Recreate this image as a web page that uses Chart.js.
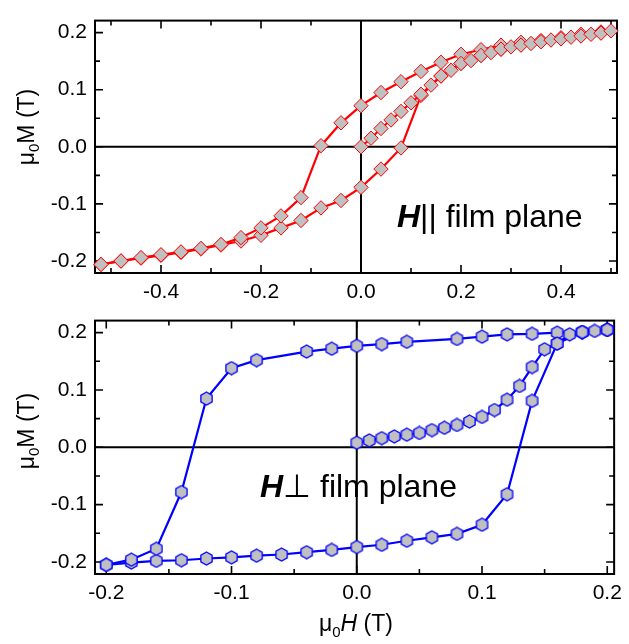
<!DOCTYPE html>
<html>
<head>
<meta charset="utf-8">
<script src="https://cdn.jsdelivr.net/npm/chart.js@4"></script>
<style>
  html, body { margin: 0; padding: 0; background: #fff; }
  #wrap { position: relative; width: 629px; height: 644px; }
  canvas { position: absolute; left: 0; }
  #topChart { top: 0; z-index: 2; }
  #botChart { top: 300px; z-index: 1; }
</style>
</head>
<body>
<div id="wrap">
  <canvas id="topChart" width="629" height="312" style="width:629px;height:312px"></canvas>
  <canvas id="botChart" width="629" height="344" style="width:629px;height:344px"></canvas>
</div>
<script>
// ---- H parallel to film plane (top panel) ----
const parInitH = [0, 0.02, 0.04, 0.06, 0.08, 0.10, 0.12, 0.14, 0.16, 0.18, 0.20, 0.22, 0.24, 0.26,
                  0.28, 0.30, 0.32, 0.34, 0.36, 0.38, 0.40, 0.42, 0.44, 0.46, 0.48, 0.50];
const parInitM = [0, 0.015, 0.032, 0.047, 0.062, 0.077, 0.092, 0.108, 0.124, 0.134, 0.146, 0.151, 0.160, 0.165,
                  0.171, 0.175, 0.178, 0.181, 0.184, 0.187, 0.189, 0.192, 0.194, 0.197, 0.199, 0.203];
const parDownH = [0.48, 0.44, 0.40, 0.36, 0.32, 0.28, 0.24, 0.20, 0.16, 0.12, 0.08, 0.04, 0,
                  -0.04, -0.08, -0.12, -0.16, -0.20, -0.24, -0.28, -0.32, -0.36, -0.40, -0.44, -0.48, -0.52];
const parDownM = [0.201, 0.197, 0.191, 0.186, 0.183, 0.178, 0.170, 0.162, 0.148, 0.132, 0.114, 0.095, 0.072,
                  0.042, 0.002, -0.089, -0.121, -0.142, -0.159, -0.171, -0.178, -0.184, -0.189, -0.194, -0.200, -0.206];
const parUpH = [-0.52, -0.48, -0.44, -0.40, -0.36, -0.32, -0.28, -0.24, -0.20, -0.16, -0.12, -0.08, -0.04,
                0, 0.04, 0.08, 0.12, 0.16, 0.20, 0.24, 0.28, 0.32, 0.36, 0.40, 0.44, 0.48];
const parUpM = [-0.206, -0.200, -0.195, -0.190, -0.185, -0.179, -0.172, -0.165, -0.155, -0.142, -0.129, -0.107, -0.094,
                -0.071, -0.039, -0.002, 0.090, 0.124, 0.146, 0.160, 0.171, 0.179, 0.185, 0.190, 0.195, 0.200];

// ---- H perpendicular to film plane (bottom panel) ----
const perInitH = [0, 0.01, 0.02, 0.03, 0.04, 0.05, 0.06, 0.07, 0.08, 0.09, 0.10,
                  0.11, 0.12, 0.13, 0.14, 0.15, 0.16, 0.17, 0.18, 0.19, 0.20];
const perInitM = [0.008, 0.012, 0.016, 0.019, 0.022, 0.025, 0.030, 0.034, 0.039, 0.045, 0.053,
                  0.065, 0.083, 0.107, 0.140, 0.171, 0.181, 0.197, 0.201, 0.203, 0.205];
const perDownH = [0.20, 0.18, 0.16, 0.14, 0.12, 0.10, 0.08, 0.04, 0.02, 0, -0.02, -0.04,
                  -0.08, -0.10, -0.12, -0.14, -0.16, -0.18, -0.20];
const perDownM = [0.205, 0.201, 0.200, 0.198, 0.197, 0.193, 0.189, 0.184, 0.180, 0.177, 0.172, 0.167,
                  0.152, 0.138, 0.085, -0.078, -0.177, -0.196, -0.205];
const perUpH = [-0.20, -0.18, -0.16, -0.14, -0.12, -0.10, -0.08, -0.06, -0.04, -0.02, 0,
                0.02, 0.04, 0.06, 0.08, 0.10, 0.12, 0.14, 0.16, 0.18, 0.20];
const perUpM = [-0.205, -0.201, -0.198, -0.197, -0.194, -0.192, -0.189, -0.187, -0.183, -0.179, -0.174,
                -0.170, -0.163, -0.157, -0.151, -0.135, -0.082, 0.081, 0.181, 0.201, 0.205];

// ---- ticks ----
const topXTicks = [-0.4, -0.2, 0, 0.2, 0.4];
const topXMinor = [-0.5, -0.3, -0.1, 0.1, 0.3, 0.5];
const botXTicks = [-0.2, -0.1, 0, 0.1, 0.2];
const botXMinor = [-0.15, -0.05, 0.05, 0.15];
const yTicks = [-0.2, -0.1, 0, 0.1, 0.2];
const yMinor = [-0.15, -0.05, 0.05, 0.15];

const FONT = "'Liberation Sans', Arial, sans-serif";
const MARKER_FILL = '#c0c0c0';

function hexImage(size, stroke) {
  const c = document.createElement('canvas');
  c.width = c.height = size;
  const g = c.getContext('2d');
  const r = size / 2 - 1;
  g.beginPath();
  for (let k = 0; k < 6; k++) {
    const a = -Math.PI / 2 + k * Math.PI / 3;
    const px = size / 2 + r * Math.cos(a), py = size / 2 + r * Math.sin(a);
    if (k) g.lineTo(px, py); else g.moveTo(px, py);
  }
  g.closePath();
  g.fillStyle = MARKER_FILL;
  g.fill();
  g.strokeStyle = stroke;
  g.lineWidth = 1.3;
  g.stroke();
  return c;
}

function drawRich(ctx, parts, x, y, align) {
  let w = 0;
  parts.forEach(p => { ctx.font = p.font; w += ctx.measureText(p.t).width; });
  let cx = align === 'center' ? x - w / 2 : x;
  parts.forEach(p => {
    ctx.font = p.font;
    ctx.fillText(p.t, cx, y + (p.dy || 0));
    cx += ctx.measureText(p.t).width;
  });
}

function yTitleParts() {
  return [
    { t: 'μ', font: `23px ${FONT}` },
    { t: '0', font: `15px ${FONT}`, dy: 5 },
    { t: 'M (T)', font: `23px ${FONT}` },
  ];
}

function framePlugin(cfg) {
  return {
    id: 'frame',
    beforeDatasetsDraw(chart) {
      const { ctx, chartArea: a, scales: { x, y } } = chart;
      ctx.save();
      ctx.strokeStyle = '#000';
      ctx.lineWidth = 2;
      const x0 = x.getPixelForValue(0), y0 = y.getPixelForValue(0);
      ctx.beginPath();
      ctx.moveTo(x0, a.top); ctx.lineTo(x0, a.bottom);
      ctx.moveTo(a.left, y0); ctx.lineTo(a.right, y0);
      ctx.stroke();

      // inward ticks on all four sides
      const tick = (vals, len) => {
        vals.forEach(v => {
          const px = x.getPixelForValue(v);
          ctx.moveTo(px, a.bottom); ctx.lineTo(px, a.bottom - len);
          ctx.moveTo(px, a.top); ctx.lineTo(px, a.top + len);
        });
      };
      const ytick = (vals, len) => {
        vals.forEach(v => {
          const py = y.getPixelForValue(v);
          ctx.moveTo(a.left, py); ctx.lineTo(a.left + len, py);
          ctx.moveTo(a.right, py); ctx.lineTo(a.right - len, py);
        });
      };
      ctx.beginPath();
      ctx.lineWidth = 1.6;
      tick(cfg.xTicks, 8); tick(cfg.xMinor, 5);
      ytick(yTicks, 8); ytick(yMinor, 5);
      ctx.stroke();

      ctx.lineWidth = 2;
      ctx.strokeRect(a.left, a.top, a.right - a.left, a.bottom - a.top);

      // texts
      ctx.fillStyle = '#000';
      ctx.textBaseline = 'alphabetic';
      ctx.save();
      ctx.translate(0, cfg.yTitleY);
      ctx.rotate(-Math.PI / 2);
      drawRich(ctx, yTitleParts(), 0, 34, 'center');
      ctx.restore();

      drawRich(ctx, [
        { t: 'H', font: `italic bold 32px ${FONT}` },
        { t: cfg.sym, font: `32px ${FONT}` },
        { t: ' film plane', font: `32px ${FONT}` },
      ], cfg.noteX, cfg.noteY, 'left');

      if (cfg.xTitle) {
        drawRich(ctx, [
          { t: 'μ', font: `23px ${FONT}` },
          { t: '0', font: `15px ${FONT}`, dy: 6 },
          { t: 'H', font: `italic 23px ${FONT}` },
          { t: ' (T)', font: `23px ${FONT}` },
        ], 356, cfg.xTitleY, 'center');
      }
      ctx.restore();
    }
  };
}

function makeChart(id, cfg) {
  const datasets = cfg.series.map(s => ({
    data: s.h.map((h, i) => ({ x: h, y: s.m[i] })),
    showLine: true,
    borderColor: cfg.color,
    borderWidth: 2.2,
    pointStyle: cfg.pointStyle,
    pointRadius: cfg.radius,
    pointBackgroundColor: MARKER_FILL,
    pointBorderColor: cfg.color,
    pointBorderWidth: 1,
    clip: false,
    tension: 0,
  }));
  const tickFont = { family: FONT, size: 21 };
  return new Chart(document.getElementById(id), {
    type: 'scatter',
    data: { datasets },
    options: {
      responsive: false,
      animation: false,
      layout: { padding: { top: cfg.padTop, right: 12, left: 0, bottom: 0 } },
      plugins: { legend: { display: false }, tooltip: { enabled: false } },
      scales: {
        x: {
          type: 'linear', min: cfg.xMin, max: cfg.xMax,
          grid: { display: false, drawTicks: false, tickLength: 0 }, border: { display: false },
          afterBuildTicks: s => { s.ticks = cfg.xTicks.map(v => ({ value: v })); },
          afterFit: s => { s.height = cfg.xHeight; },
          ticks: { autoSkip: false, maxRotation: 0, padding: 7, color: '#000', font: tickFont,
                   callback: v => v.toFixed(1) },
        },
        y: {
          type: 'linear', min: -0.221, max: 0.221,
          grid: { display: false, drawTicks: false, tickLength: 0 }, border: { display: false },
          afterBuildTicks: s => { s.ticks = yTicks.map(v => ({ value: v })); },
          afterFit: s => { s.width = 95; },
          ticks: { autoSkip: false, padding: 8, color: '#000', font: tickFont,
                   callback: v => v.toFixed(1) },
        },
      },
    },
    plugins: [framePlugin(cfg)],
  });
}

makeChart('topChart', {
  series: [
    { h: parInitH, m: parInitM },
    { h: parDownH, m: parDownM },
    { h: parUpH, m: parUpM },
  ],
  color: '#ff0000', pointStyle: 'rectRot', radius: 7.2,
  xMin: -0.532, xMax: 0.512, xTicks: topXTicks, xMinor: topXMinor,
  padTop: 12, xHeight: 39, yTitleY: 127,
  sym: '||', noteX: 397, noteY: 227,
});

makeChart('botChart', {
  series: [
    { h: perInitH, m: perInitM },
    { h: perDownH, m: perDownM },
    { h: perUpH, m: perUpM },
  ],
  color: '#0000ff', pointStyle: hexImage(15, '#0000ff'), radius: 7,
  xMin: -0.209, xMax: 0.2055, xTicks: botXTicks, xMinor: botXMinor,
  padTop: 13, xHeight: 70, yTitleY: 131,
  sym: '⊥', noteX: 260, noteY: 197,
  xTitle: true, xTitleY: 331,
});
</script>
</body>
</html>
